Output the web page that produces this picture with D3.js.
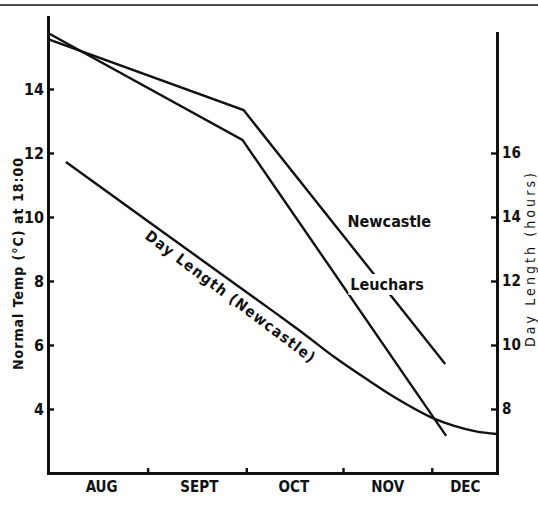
<!DOCTYPE html>
<html>
<head>
<meta charset="utf-8">
<script src="https://cdn.jsdelivr.net/npm/d3@7"></script>
<style>
  html, body { margin: 0; padding: 0; background: #fff; }
  svg { display: block; }
  .lbl { font-family: "DejaVu Sans Condensed", "DejaVu Sans", sans-serif; font-stretch: condensed; }
</style>
</head>
<body>
<svg id="chart" width="538" height="506"></svg>
<script>
// ---- data ----
const monthNames = ["AUG", "SEPT", "OCT", "NOV", "DEC"];
const monthLabelDays = [16.8, 47.4, 77, 106.4, 130.7];
const monthTickDays = [31.2, 62.1, 92.4, 120.2];
const tempTicks = [4, 6, 8, 10, 12, 14];
const hourTicks = [8, 10, 12, 14, 16];

const newcastleDays = [0, 61.25, 124.4];
const newcastleTemp = [15.56, 13.34, 5.41];
const leucharsDays = [0, 60.9, 124.7];
const leucharsTemp = [15.75, 12.41, 3.16];

const dayLenDays  = [5.6, 35, 70, 80, 90, 100, 110, 120, 127, 134, 140.6];
const dayLenHours = [15.72, 13.6, 11.09, 10.36, 9.6, 8.92, 8.28, 7.74, 7.48, 7.3, 7.22];

// label anchors (data coords)
const newcastleLabel = { day: 93.8, temp: 9.69, text: "Newcastle" };
const leucharsLabel = { day: 94.7, temp: 7.72, text: "Leuchars" };
const dayLenLabel = { day: 56.1, hours: 11.39, text: "Day Length (Newcastle)" };

// ---- scales ----
const svg = d3.select("#chart");
const x = d3.scaleLinear().domain([0, 140.625]).range([48, 497]);
const yT = d3.scaleLinear().domain([2, 16.25]).range([473, 17]);
const yH = d3.scaleLinear().domain([6, 19.75]).range([473, 33]);

const ink = "#111";

// top rule (scan border)
svg.append("line").attr("x1", 0).attr("x2", 538).attr("y1", 5).attr("y2", 5)
  .attr("stroke", ink).attr("stroke-width", 1.6);

// ---- axes ----
const gL = svg.append("g").attr("transform", `translate(${x.range()[0]},0)`)
  .call(d3.axisLeft(yT).tickValues(tempTicks).tickSizeInner(-6).tickSizeOuter(0).tickPadding(4));
const gR = svg.append("g").attr("transform", `translate(${x.range()[1]},0)`)
  .call(d3.axisRight(yH).tickValues(hourTicks).tickSizeInner(-6).tickSizeOuter(0).tickPadding(5));
const gB = svg.append("g").attr("transform", `translate(0,${yT.range()[0]})`)
  .call(d3.axisBottom(x).tickValues(monthTickDays).tickFormat("").tickSizeInner(-5).tickSizeOuter(0));

[gL, gR, gB].forEach(g => {
  g.select(".domain").attr("stroke", ink).attr("stroke-width", 3).attr("stroke-linecap", "square");
  g.selectAll(".tick line").attr("stroke", ink).attr("stroke-width", 2.4);
  g.selectAll(".tick text").attr("class", "lbl").attr("fill", ink)
    .style("font-size", "16px").style("font-weight", "bold");
});
gR.selectAll(".tick text").style("font-size", "15px").style("font-weight", "600");

// month labels
svg.append("g").selectAll("text").data(monthNames).join("text")
  .attr("class", "lbl")
  .attr("x", (d, i) => x(monthLabelDays[i]))
  .attr("y", yT.range()[0] + 19)
  .attr("text-anchor", "middle")
  .style("font-size", "15px").style("font-weight", "bold")
  .attr("fill", ink)
  .text(d => d);

// axis titles
svg.append("text").attr("class", "lbl")
  .attr("transform", "translate(23,264) rotate(-90)")
  .attr("text-anchor", "middle")
  .attr("textLength", 212).attr("lengthAdjust", "spacing")
  .style("font-size", "14px").style("font-weight", "bold").attr("fill", ink)
  .text("Normal Temp (°C) at 18:00");

svg.append("text").attr("class", "lbl")
  .attr("transform", "translate(535,260) rotate(-90)")
  .attr("text-anchor", "middle")
  .attr("textLength", 174).attr("lengthAdjust", "spacing")
  .style("font-size", "14px").attr("fill", ink)
  .text("Day Length (hours)");

// ---- series ----
const lineT = d3.line().x(d => x(d[0])).y(d => yT(d[1]));
const lineH = d3.line().x(d => x(d[0])).y(d => yH(d[1])).curve(d3.curveMonotoneX);

svg.append("path").datum(newcastleDays.map((d, i) => [d, newcastleTemp[i]]))
  .attr("d", lineT).attr("fill", "none").attr("stroke", ink).attr("stroke-width", 2.4)
  .attr("stroke-linejoin", "miter");
svg.append("path").datum(leucharsDays.map((d, i) => [d, leucharsTemp[i]]))
  .attr("d", lineT).attr("fill", "none").attr("stroke", ink).attr("stroke-width", 2.4)
  .attr("stroke-linejoin", "miter");
svg.append("path").datum(dayLenDays.map((d, i) => [d, dayLenHours[i]]))
  .attr("d", lineH).attr("fill", "none").attr("stroke", ink).attr("stroke-width", 2.4);

// ---- annotations ----
function addLabel(px, py, txt, knockout) {
  const g = svg.append("g");
  const t = g.append("text").attr("class", "lbl")
    .attr("x", px).attr("y", py)
    .style("font-size", "16px").style("font-weight", "bold").attr("fill", ink)
    .text(txt);
  if (knockout) {
    const b = t.node().getBBox();
    g.insert("rect", "text").attr("x", b.x - 2).attr("y", b.y - 1)
      .attr("width", b.width + 4).attr("height", b.height + 2).attr("fill", "#fff");
  }
}
addLabel(x(newcastleLabel.day), yT(newcastleLabel.temp), newcastleLabel.text, false);
addLabel(x(leucharsLabel.day), yT(leucharsLabel.temp), leucharsLabel.text, true);

svg.append("text").attr("class", "lbl")
  .attr("transform", `translate(${x(dayLenLabel.day)},${yH(dayLenLabel.hours)}) rotate(37)`)
  .attr("text-anchor", "middle")
  .attr("textLength", 208).attr("lengthAdjust", "spacing")
  .style("font-size", "15px").style("font-weight", "600").attr("fill", ink)
  .text(dayLenLabel.text);
</script>
</body>
</html>
